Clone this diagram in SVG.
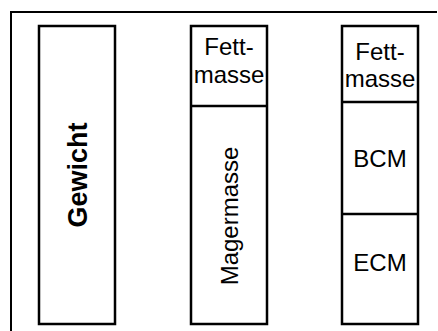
<svg xmlns="http://www.w3.org/2000/svg" width="438" height="331" viewBox="0 0 438 331">
<style>
.box{fill:#fff;stroke:#000;stroke-width:2.5}
.div{stroke:#000;stroke-width:2.5;fill:none}
.t{font-family:"Liberation Sans",Arial,sans-serif;font-size:24px;fill:#000;text-anchor:middle}
.b{font-weight:bold;font-size:27px}
</style>
<rect width="438" height="331" fill="#fff"/>
<g id="frame"><path d="M11,331 V12 H437" fill="none" stroke="#000" stroke-width="2"/></g>
<g id="gewicht">
<rect class="box" x="39" y="26" width="76" height="298"/>
<text class="t b" transform="translate(87,175) rotate(-90)">Gewicht</text>
</g>
<g id="col2">
<rect class="box" x="191" y="26" width="76" height="298"/>
<line class="div" x1="191" y1="106" x2="267" y2="106"/>
<g id="fett1"><text class="t" x="229" y="55">Fett-</text><text class="t" x="229" y="83">masse</text></g>
<g id="mager"><text class="t" transform="translate(238,216) rotate(-90)">Magermasse</text></g>
</g>
<g id="col3">
<rect class="box" x="342" y="26" width="76" height="298"/>
<line class="div" x1="342" y1="102" x2="418" y2="102"/>
<line class="div" x1="342" y1="214" x2="418" y2="214"/>
<g id="fett2"><text class="t" x="380" y="60">Fett-</text><text class="t" x="380" y="87">masse</text></g>
<g id="bcm"><text class="t" x="380" y="167">BCM</text></g>
<g id="ecm"><text class="t" x="380" y="271">ECM</text></g>
</g>
<g id="connectors"></g>
</svg>
